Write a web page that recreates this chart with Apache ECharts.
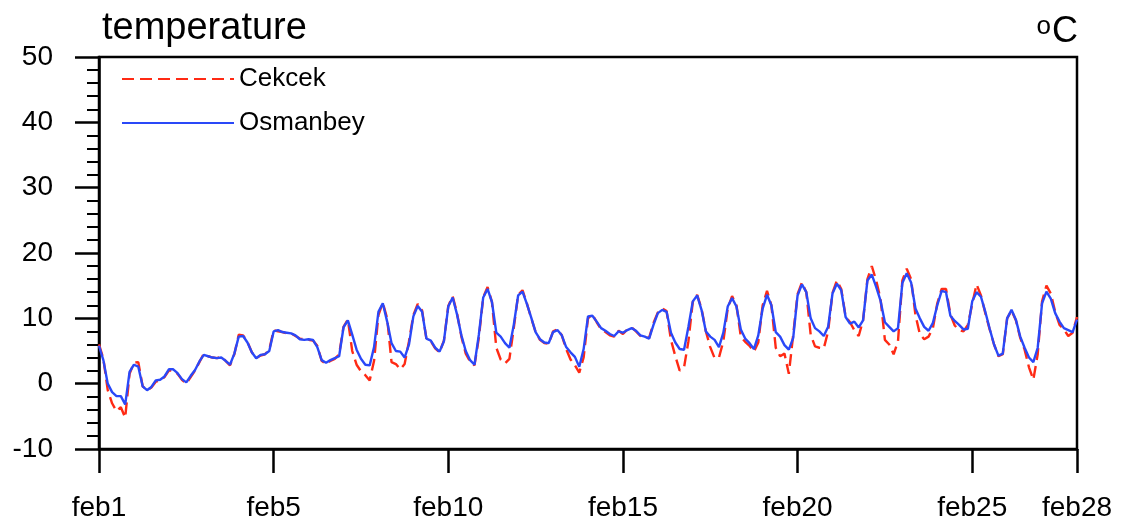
<!DOCTYPE html>
<html>
<head>
<meta charset="utf-8">
<script src="https://cdn.jsdelivr.net/npm/echarts@6/dist/echarts.min.js"></script>
<style>
  html, body { margin: 0; padding: 0; background: #fff; }
  #main { width: 1130px; height: 526px; }
</style>
</head>
<body>
<div id="main"></div>
<script>
// 3-hourly temperatures, feb1 00h .. feb29 00h (8 values a day)
var stepHours = 3;
var cekcek = [
    6.0, 3.8, -1.0, -3.0, -4.2, -3.6, -5.2, 1.5,
    3.2, 3.3, -0.4, -1.0, -0.6, 0.3, 0.5, 1.0,
    2.0, 2.0, 1.5, 0.6, 0.0, 1.0, 2.0, 3.3,
    4.6, 4.2, 4.0, 3.9, 4.1, 3.5, 2.8, 4.5,
    7.5, 7.4, 6.4, 4.8, 3.9, 4.3, 4.5, 5.2,
    8.2, 8.0, 7.9, 7.7, 7.7, 7.3, 6.9, 6.8,
    6.7, 6.6, 5.8, 3.5, 3.0, 3.5, 3.8, 4.5,
    8.7, 9.8, 5.0, 2.9, 1.9, 1.3, 0.5, 3.5,
    10.5, 12.4, 10.0, 3.3, 3.0, 2.2, 3.0, 6.5,
    10.5, 12.2, 11.2, 6.8, 6.5, 5.4, 4.8, 6.6,
    11.9, 13.4, 10.8, 7.2, 4.6, 3.4, 2.8, 7.0,
    13.2, 14.8, 12.5, 5.5, 3.7, 3.1, 3.8, 8.5,
    13.6, 14.3, 12.3, 10.0, 7.9, 6.7, 6.2, 6.1,
    8.0, 8.3, 7.4, 5.3, 3.7, 2.8, 1.7, 4.0,
    10.0, 10.6, 9.4, 8.3, 7.9, 7.4, 7.2, 8.1,
    7.6, 8.3, 8.6, 8.0, 7.3, 7.1, 7.0, 9.3,
    10.9, 11.5, 11.1, 6.7, 4.2, 2.0, 2.5, 6.5,
    12.5, 13.6, 11.5, 8.0, 5.6, 3.9, 4.0, 6.5,
    11.5, 13.4, 12.0, 7.2, 6.4, 5.8, 4.9, 6.3,
    12.0, 14.2, 12.0, 5.5, 4.2, 4.6, 1.5, 7.5,
    13.7, 15.5, 14.0, 7.5, 5.7, 5.5, 5.4, 8.0,
    13.9, 15.8, 14.5, 10.3, 9.4, 8.2, 7.3, 9.7,
    16.0, 18.0, 15.8, 13.0, 6.7, 6.0, 4.5, 6.5,
    15.8, 17.6, 16.0, 10.5, 7.6, 6.8, 7.2, 8.5,
    12.3, 14.5, 14.5, 10.6, 8.9, 8.2, 8.0, 9.0,
    12.2, 15.2, 13.5, 10.8, 8.3, 6.0, 4.2, 4.5,
    10.0, 11.2, 9.7, 7.0, 5.2, 2.5, 0.6, 4.5,
    12.6, 15.0, 13.8, 11.0, 9.0, 8.3, 7.3, 7.8,
    10.2
];
var osmanbey = [
    5.8, 3.6, 0.0, -1.3, -1.9, -1.9, -3.2, 1.8,
    2.9, 2.6, -0.4, -1.0, -0.5, 0.5, 0.6, 1.1,
    2.2, 2.2, 1.6, 0.7, 0.2, 1.2, 2.1, 3.4,
    4.4, 4.2, 4.0, 3.9, 4.0, 3.5, 2.9, 4.6,
    7.2, 7.3, 6.3, 4.8, 3.9, 4.4, 4.5, 5.0,
    8.0, 8.2, 7.9, 7.8, 7.7, 7.4, 6.8, 6.7,
    6.8, 6.7, 5.6, 3.6, 3.2, 3.6, 3.9, 4.2,
    8.6, 9.7, 7.5, 5.2, 3.8, 2.9, 2.8, 5.6,
    11.0, 12.3, 9.5, 6.2, 5.0, 4.9, 4.0, 6.0,
    10.3, 11.9, 11.0, 6.9, 6.6, 5.5, 4.9, 6.5,
    11.8, 13.2, 10.6, 7.4, 5.0, 3.6, 2.9, 7.5,
    13.2, 14.5, 12.5, 7.8, 7.2, 6.2, 5.5, 9.0,
    13.5, 14.1, 12.2, 10.1, 7.9, 6.8, 6.3, 6.2,
    7.9, 8.2, 7.4, 5.6, 4.8, 4.1, 2.6, 5.3,
    10.3, 10.4, 9.5, 8.5, 8.1, 7.6, 7.3, 8.0,
    7.8, 8.2, 8.5, 8.1, 7.4, 7.2, 6.9, 9.0,
    10.8, 11.3, 11.0, 7.8, 6.3, 5.3, 5.2, 8.7,
    12.6, 13.5, 11.3, 8.0, 7.2, 6.7, 5.6, 7.8,
    11.8, 13.1, 11.8, 8.3, 6.9, 6.2, 5.3, 7.4,
    11.5, 13.6, 12.0, 7.9, 7.2, 5.9, 5.2, 7.0,
    13.5, 15.2, 14.0, 10.0, 8.5, 8.0, 7.3, 8.7,
    13.8, 15.3, 14.3, 10.2, 9.2, 9.5, 8.6, 9.7,
    15.8, 16.7, 14.8, 12.7, 9.4, 8.7, 8.0, 8.5,
    15.4, 16.9, 15.5, 11.5, 10.0, 8.7, 8.1, 9.3,
    12.0, 14.2, 14.0, 10.4, 9.6, 9.0, 8.3, 8.4,
    12.6, 14.0, 13.3, 11.0, 8.4, 6.0, 4.3, 4.6,
    10.0, 11.3, 9.8, 7.2, 5.5, 4.0, 3.3, 5.5,
    12.3, 14.1, 13.0, 10.8, 9.5, 8.5, 8.2, 7.9,
    9.8
];
var tickDays = [0, 5, 10, 15, 20, 25, 28];
var tickLabels = ['feb1', 'feb5', 'feb10', 'feb15', 'feb20', 'feb25', 'feb28'];

var font = "'Liberation Sans', Arial, Helvetica, sans-serif";

function pairs(vals) {
    var out = [];
    for (var i = 0; i < vals.length; i++) {
        out.push([i * stepHours / 24, vals[i]]);
    }
    return out;
}

var myChart = echarts.init(document.getElementById('main'));
var option = {
    animation: false,
    backgroundColor: '#fff',
    title: [{
        text: 'temperature',
        left: 97,
        top: 5,
        textStyle: { fontFamily: font, fontSize: 38, fontWeight: 'normal', color: '#000' }
    }, {
        // superscript o + C, as in the original unit string
        text: '{o|o}{c|C}',
        right: 47,
        top: 9,
        textStyle: {
            fontFamily: font,
            fontWeight: 'normal',
            color: '#000',
            rich: {
                o: { fontFamily: font, fontWeight: 'normal', fontSize: 26, color: '#000', verticalAlign: 'top', lineHeight: 26, padding: [0, 1, 16, 0] },
                c: { fontFamily: font, fontWeight: 'normal', fontSize: 36, color: '#000', lineHeight: 36 }
            }
        }
    }],
    legend: {
        orient: 'vertical',
        left: 121,
        top: 65,
        padding: 0,
        itemWidth: 112,
        itemHeight: 14,
        itemGap: 16,
        itemStyle: { color: 'rgba(0,0,0,0)', borderWidth: 0, opacity: 0 },
        textStyle: { fontFamily: font, fontSize: 26, color: '#000', lineHeight: 28 },
        data: ['Cekcek', 'Osmanbey']
    },
    grid: {
        left: 99,
        top: 57,
        right: 53,
        bottom: 77,
        show: true,
        borderColor: '#000',
        borderWidth: 2.5,
        backgroundColor: 'transparent'
    },
    xAxis: {
        type: 'value',
        min: 0,
        max: 28,
        splitLine: { show: false },
        axisLine: { onZero: false, lineStyle: { color: '#000', width: 2.5 } },
        axisTick: {
            customValues: tickDays,
            length: 24,
            lineStyle: { color: '#000', width: 2.5 }
        },
        axisLabel: {
            customValues: tickDays,
            margin: 45,
            fontFamily: font,
            fontSize: 28,
            color: '#000',
            formatter: function (v) {
                return tickLabels[tickDays.indexOf(v)];
            }
        }
    },
    yAxis: {
        type: 'value',
        min: -10,
        max: 50,
        interval: 10,
        splitLine: { show: false },
        axisLine: { show: true, lineStyle: { color: '#000', width: 2.5 } },
        axisTick: { show: true, length: 24, lineStyle: { color: '#000', width: 2.5 } },
        minorTick: { show: true, splitNumber: 5, length: 12, lineStyle: { color: '#000', width: 2 } },
        axisLabel: {
            margin: 46,
            fontFamily: font,
            fontSize: 28,
            color: '#000'
        }
    },
    series: [{
        name: 'Cekcek',
        type: 'line',
        data: pairs(cekcek),
        showSymbol: false,
        symbol: 'none',
        color: '#ff2a14',
        lineStyle: { color: '#ff2a14', width: 2.4, type: [12, 6] }
    }, {
        name: 'Osmanbey',
        type: 'line',
        data: pairs(osmanbey),
        showSymbol: false,
        symbol: 'none',
        color: '#2a48f8',
        lineStyle: { color: '#2a48f8', width: 2.4 }
    }]
};
myChart.setOption(option);
</script>
</body>
</html>
